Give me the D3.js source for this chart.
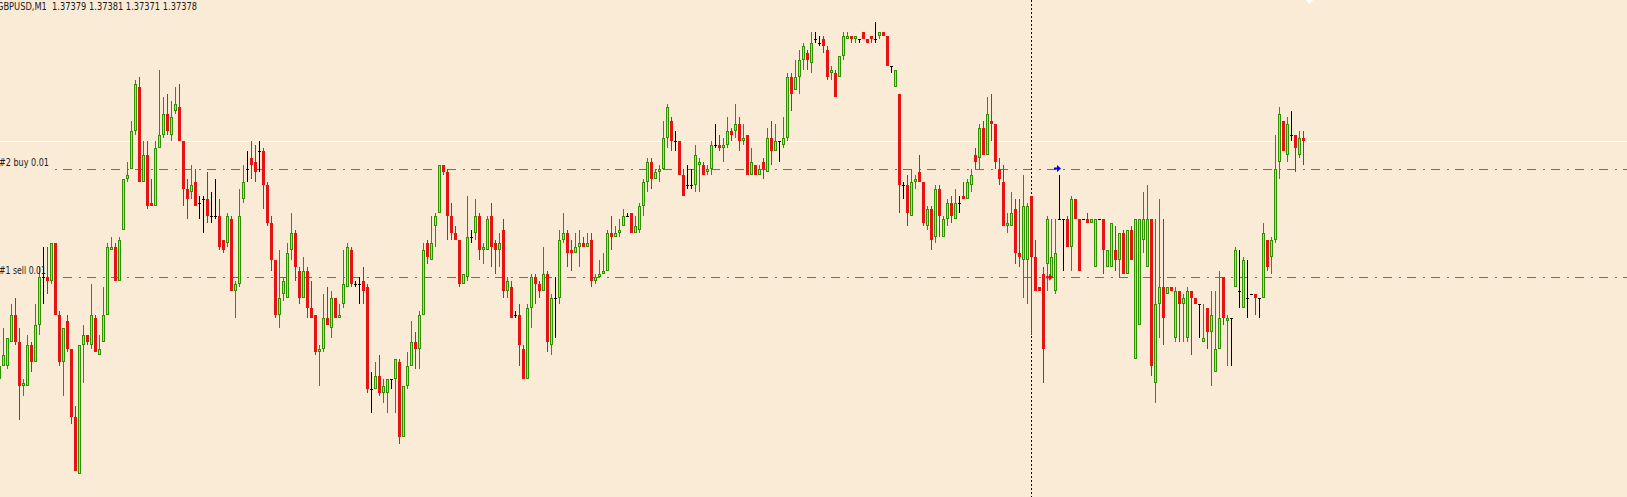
<!DOCTYPE html>
<html><head><meta charset="utf-8">
<script src="https://cdn.jsdelivr.net/npm/d3@7"></script>
<style>html,body{margin:0;padding:0;background:#FAEBD7;overflow:hidden}</style>
</head><body>
<svg id="chart" width="1627" height="497"></svg>
<script>
const symbolTitle = "GBPUSD,M1";
const titleQuote = ["1.37379","1.37381","1.37371","1.37378"];
const orderLabels = ["#2 buy 0.01", "#1 sell 0.01"];
const orderPrices = [1.37370, 1.37338];
const orderBars = [264, 262];
const bidPrice = 1.37378;
const markerBar = 258;

const open = [1.37308,1.37312,1.37312,1.37319,1.37327,1.37319,1.37306,1.37306,1.37318,1.37313,
1.37324,1.37338,1.37338,1.37337,1.37348,1.37327,1.37313,1.37325,1.37317,1.37297,
1.37280,1.37318,1.37321,1.37318,1.37326,1.37315,1.37319,1.37327,1.37346,1.37347,
1.37337,1.37352,1.37367,1.37370,1.37381,1.37394,1.37366,1.37374,1.37360,1.37359,
1.37376,1.37380,1.37386,1.37380,1.37387,1.37388,1.37378,1.37364,1.37363,1.37366,
1.37360,1.37361,1.37361,1.37356,1.37356,1.37356,1.37349,1.37348,1.37355,1.37334,
1.37336,1.37361,1.37370,1.37373,1.37372,1.37375,1.37375,1.37365,1.37354,1.37343,
1.37327,1.37333,1.37332,1.37346,1.37351,1.37340,1.37332,1.37340,1.37329,1.37327,
1.37316,1.37317,1.37326,1.37323,1.37332,1.37326,1.37330,1.37335,1.37346,1.37336,
1.37336,1.37337,1.37335,1.37305,1.37305,1.37309,1.37304,1.37304,1.37308,1.37308,
1.37313,1.37291,1.37306,1.37312,1.37319,1.37317,1.37327,1.37348,1.37343,1.37353,
1.37357,1.37371,1.37369,1.37356,1.37351,1.37349,1.37336,1.37338,1.37350,1.37351,
1.37356,1.37346,1.37346,1.37356,1.37348,1.37346,1.37352,1.37334,1.37335,1.37327,
1.37327,1.37317,1.37308,1.37329,1.37338,1.37336,1.37334,1.37339,1.37318,1.37332,
1.37332,1.37349,1.37351,1.37346,1.37345,1.37347,1.37348,1.37347,1.37349,1.37337,
1.37338,1.37339,1.37340,1.37351,1.37350,1.37351,1.37353,1.37356,1.37357,1.37351,
1.37352,1.37359,1.37366,1.37372,1.37367,1.37369,1.37370,1.37379,1.37384,1.37378,
1.37378,1.37368,1.37365,1.37365,1.37365,1.37371,1.37371,1.37369,1.37370,1.37377,
1.37377,1.37376,1.37377,1.37381,1.37381,1.37383,1.37378,1.37380,1.37368,1.37371,
1.37368,1.37372,1.37369,1.37379,1.37375,1.37378,1.37377,1.37379,1.37397,1.37393,
1.37397,1.37402,1.37404,1.37401,1.37408,1.37407,1.37408,1.37405,1.37398,1.37398,
1.37397,1.37403,1.37408,1.37409,1.37408,1.37408,1.37410,1.37408,1.37409,1.37408,
1.37409,1.37410,1.37409,1.37400,1.37394,1.37392,1.37365,1.37365,1.37356,1.37366,
1.37369,1.37366,1.37353,1.37358,1.37350,1.37364,1.37350,1.37355,1.37360,1.37355,
1.37360,1.37362,1.37361,1.37365,1.37374,1.37373,1.37382,1.37374,1.37384,1.37383,
1.37370,1.37366,1.37353,1.37353,1.37358,1.37345,1.37343,1.37343,1.37362,1.37344,
1.37335,1.37339,1.37342,1.37338,1.37334,1.37355,1.37355,1.37355,1.37347,1.37361,
1.37355,1.37355,1.37355,1.37354,1.37341,1.37355,1.37355,1.37341,1.37341,1.37346,
1.37343,1.37351,1.37339,1.37352,1.37314,1.37324,1.37349,1.37341,1.37355,1.37307,
1.37330,1.37335,1.37333,1.37335,1.37320,1.37334,1.37330,1.37320,1.37334,1.37332,
1.37330,1.37319,1.37329,1.37322,1.37310,1.37317,1.37338,1.37325,1.37326,1.37335,
1.37334,1.37329,1.37332,1.37333,1.37333,1.37332,1.37332,1.37349,1.37344,1.37349,
1.37372,1.37384,1.37374,1.37380,1.37380,1.37374,1.37379];

const high = [1.37314,1.37323,1.37320,1.37330,1.37332,1.37323,1.37308,1.37321,1.37319,1.37330,
1.37341,1.37347,1.37347,1.37348,1.37348,1.37328,1.37323,1.37327,1.37317,1.37300,
1.37318,1.37324,1.37321,1.37336,1.37327,1.37321,1.37335,1.37348,1.37350,1.37348,
1.37350,1.37367,1.37372,1.37384,1.37396,1.37397,1.37378,1.37378,1.37367,1.37378,
1.37399,1.37391,1.37392,1.37390,1.37394,1.37395,1.37378,1.37367,1.37371,1.37370,
1.37362,1.37362,1.37369,1.37363,1.37367,1.37361,1.37349,1.37357,1.37356,1.37337,
1.37364,1.37371,1.37375,1.37378,1.37377,1.37378,1.37376,1.37366,1.37356,1.37343,
1.37346,1.37338,1.37348,1.37357,1.37352,1.37341,1.37344,1.37341,1.37337,1.37327,
1.37318,1.37333,1.37335,1.37334,1.37332,1.37330,1.37346,1.37348,1.37347,1.37337,
1.37338,1.37341,1.37336,1.37310,1.37313,1.37315,1.37308,1.37308,1.37308,1.37314,
1.37314,1.37306,1.37316,1.37325,1.37322,1.37328,1.37348,1.37349,1.37356,1.37357,
1.37371,1.37371,1.37370,1.37360,1.37353,1.37349,1.37339,1.37362,1.37352,1.37361,
1.37357,1.37348,1.37356,1.37360,1.37349,1.37351,1.37355,1.37338,1.37337,1.37328,
1.37330,1.37318,1.37330,1.37339,1.37339,1.37337,1.37347,1.37340,1.37333,1.37338,
1.37352,1.37357,1.37352,1.37349,1.37351,1.37352,1.37350,1.37351,1.37351,1.37339,
1.37343,1.37345,1.37352,1.37356,1.37353,1.37355,1.37358,1.37357,1.37357,1.37356,
1.37360,1.37367,1.37373,1.37373,1.37370,1.37371,1.37384,1.37389,1.37385,1.37381,
1.37378,1.37370,1.37371,1.37370,1.37377,1.37373,1.37372,1.37371,1.37378,1.37383,
1.37380,1.37379,1.37385,1.37382,1.37389,1.37385,1.37383,1.37380,1.37376,1.37371,
1.37371,1.37373,1.37382,1.37384,1.37383,1.37378,1.37385,1.37398,1.37398,1.37402,
1.37405,1.37407,1.37405,1.37410,1.37410,1.37409,1.37409,1.37406,1.37400,1.37399,
1.37403,1.37410,1.37410,1.37409,1.37409,1.37408,1.37410,1.37408,1.37409,1.37413,
1.37410,1.37410,1.37409,1.37400,1.37399,1.37392,1.37366,1.37368,1.37370,1.37368,
1.37374,1.37366,1.37359,1.37359,1.37365,1.37365,1.37356,1.37361,1.37362,1.37364,
1.37362,1.37366,1.37367,1.37370,1.37376,1.37383,1.37384,1.37391,1.37392,1.37383,
1.37373,1.37371,1.37357,1.37363,1.37361,1.37361,1.37368,1.37360,1.37362,1.37349,
1.37335,1.37341,1.37356,1.37355,1.37355,1.37368,1.37355,1.37356,1.37362,1.37361,
1.37355,1.37355,1.37357,1.37355,1.37355,1.37355,1.37355,1.37346,1.37354,1.37353,
1.37351,1.37352,1.37352,1.37353,1.37355,1.37355,1.37363,1.37365,1.37355,1.37355,
1.37361,1.37355,1.37335,1.37335,1.37335,1.37334,1.37333,1.37335,1.37334,1.37332,
1.37330,1.37330,1.37329,1.37334,1.37334,1.37340,1.37338,1.37327,1.37326,1.37347,
1.37346,1.37344,1.37343,1.37333,1.37333,1.37332,1.37354,1.37349,1.37350,1.37380,
1.37388,1.37384,1.37385,1.37387,1.37380,1.37381,1.37381];

const low = [1.37297,1.37312,1.37311,1.37319,1.37318,1.37296,1.37303,1.37306,1.37310,1.37313,
1.37321,1.37330,1.37333,1.37336,1.37327,1.37312,1.37303,1.37316,1.37295,1.37281,
1.37280,1.37307,1.37318,1.37317,1.37316,1.37315,1.37319,1.37327,1.37346,1.37337,
1.37337,1.37352,1.37366,1.37370,1.37380,1.37366,1.37366,1.37358,1.37359,1.37359,
1.37376,1.37379,1.37380,1.37378,1.37386,1.37378,1.37359,1.37355,1.37361,1.37359,
1.37355,1.37351,1.37354,1.37354,1.37355,1.37346,1.37345,1.37347,1.37334,1.37326,
1.37335,1.37360,1.37366,1.37367,1.37366,1.37369,1.37358,1.37353,1.37340,1.37326,
1.37323,1.37331,1.37332,1.37343,1.37337,1.37330,1.37332,1.37326,1.37326,1.37315,
1.37306,1.37316,1.37324,1.37320,1.37326,1.37326,1.37329,1.37335,1.37335,1.37335,
1.37330,1.37330,1.37304,1.37298,1.37305,1.37303,1.37301,1.37298,1.37305,1.37298,
1.37289,1.37291,1.37305,1.37312,1.37311,1.37311,1.37327,1.37342,1.37343,1.37347,
1.37357,1.37368,1.37349,1.37349,1.37349,1.37335,1.37336,1.37337,1.37348,1.37349,
1.37343,1.37342,1.37346,1.37341,1.37339,1.37341,1.37332,1.37332,1.37326,1.37326,
1.37312,1.37308,1.37308,1.37323,1.37330,1.37332,1.37334,1.37316,1.37315,1.37320,
1.37330,1.37348,1.37341,1.37340,1.37345,1.37341,1.37347,1.37347,1.37335,1.37336,
1.37338,1.37339,1.37340,1.37346,1.37350,1.37350,1.37353,1.37356,1.37351,1.37351,
1.37351,1.37356,1.37363,1.37364,1.37367,1.37366,1.37370,1.37376,1.37375,1.37375,
1.37368,1.37362,1.37364,1.37364,1.37363,1.37363,1.37368,1.37368,1.37368,1.37376,
1.37375,1.37372,1.37376,1.37378,1.37379,1.37375,1.37377,1.37368,1.37368,1.37368,
1.37368,1.37367,1.37369,1.37371,1.37375,1.37372,1.37376,1.37378,1.37387,1.37393,
1.37392,1.37399,1.37399,1.37398,1.37407,1.37406,1.37404,1.37396,1.37396,1.37391,
1.37397,1.37402,1.37408,1.37407,1.37407,1.37407,1.37408,1.37407,1.37407,1.37407,
1.37408,1.37409,1.37400,1.37398,1.37394,1.37357,1.37361,1.37353,1.37356,1.37364,
1.37366,1.37353,1.37352,1.37346,1.37348,1.37350,1.37350,1.37353,1.37354,1.37355,
1.37357,1.37361,1.37361,1.37363,1.37370,1.37370,1.37374,1.37374,1.37378,1.37370,
1.37365,1.37353,1.37351,1.37353,1.37342,1.37341,1.37332,1.37330,1.37321,1.37334,
1.37334,1.37307,1.37334,1.37338,1.37333,1.37355,1.37340,1.37347,1.37340,1.37355,
1.37340,1.37355,1.37354,1.37354,1.37341,1.37355,1.37339,1.37341,1.37341,1.37340,
1.37338,1.37339,1.37339,1.37343,1.37314,1.37324,1.37345,1.37341,1.37309,1.37301,
1.37320,1.37318,1.37333,1.37334,1.37319,1.37319,1.37319,1.37319,1.37315,1.37330,
1.37320,1.37319,1.37317,1.37306,1.37310,1.37317,1.37324,1.37312,1.37312,1.37335,
1.37329,1.37329,1.37326,1.37333,1.37327,1.37326,1.37332,1.37340,1.37339,1.37348,
1.37367,1.37375,1.37372,1.37378,1.37369,1.37373,1.37371];

const close = [1.37312,1.37315,1.37320,1.37327,1.37319,1.37306,1.37307,1.37318,1.37313,1.37324,
1.37338,1.37338,1.37337,1.37348,1.37327,1.37313,1.37323,1.37317,1.37297,1.37281,
1.37318,1.37321,1.37319,1.37327,1.37316,1.37317,1.37327,1.37347,1.37347,1.37337,
1.37349,1.37367,1.37368,1.37381,1.37395,1.37366,1.37374,1.37359,1.37359,1.37376,
1.37380,1.37386,1.37381,1.37385,1.37389,1.37378,1.37364,1.37361,1.37365,1.37359,
1.37360,1.37361,1.37356,1.37356,1.37356,1.37347,1.37346,1.37356,1.37334,1.37336,
1.37356,1.37366,1.37370,1.37371,1.37369,1.37375,1.37365,1.37354,1.37343,1.37327,
1.37332,1.37337,1.37345,1.37351,1.37341,1.37332,1.37340,1.37329,1.37326,1.37316,
1.37317,1.37326,1.37324,1.37332,1.37326,1.37327,1.37336,1.37347,1.37336,1.37336,
1.37336,1.37334,1.37305,1.37305,1.37309,1.37304,1.37306,1.37308,1.37308,1.37314,
1.37291,1.37306,1.37312,1.37319,1.37317,1.37327,1.37346,1.37344,1.37348,1.37356,
1.37371,1.37369,1.37356,1.37351,1.37349,1.37336,1.37339,1.37350,1.37350,1.37356,
1.37346,1.37347,1.37355,1.37347,1.37346,1.37348,1.37334,1.37337,1.37326,1.37327,
1.37318,1.37308,1.37329,1.37338,1.37336,1.37334,1.37339,1.37319,1.37332,1.37332,
1.37349,1.37351,1.37345,1.37345,1.37347,1.37348,1.37347,1.37348,1.37337,1.37338,
1.37339,1.37340,1.37351,1.37350,1.37351,1.37352,1.37356,1.37356,1.37351,1.37353,
1.37359,1.37366,1.37372,1.37367,1.37369,1.37370,1.37379,1.37388,1.37378,1.37378,
1.37368,1.37362,1.37365,1.37365,1.37374,1.37372,1.37368,1.37370,1.37377,1.37377,
1.37376,1.37377,1.37381,1.37380,1.37383,1.37378,1.37379,1.37368,1.37372,1.37368,
1.37370,1.37370,1.37379,1.37375,1.37378,1.37378,1.37379,1.37397,1.37392,1.37397,
1.37402,1.37406,1.37402,1.37407,1.37408,1.37407,1.37406,1.37397,1.37399,1.37391,
1.37403,1.37409,1.37409,1.37408,1.37409,1.37408,1.37408,1.37407,1.37408,1.37408,
1.37410,1.37409,1.37400,1.37400,1.37399,1.37365,1.37365,1.37357,1.37366,1.37367,
1.37366,1.37354,1.37358,1.37349,1.37364,1.37356,1.37355,1.37360,1.37356,1.37360,
1.37360,1.37361,1.37366,1.37368,1.37372,1.37382,1.37374,1.37386,1.37383,1.37372,
1.37367,1.37353,1.37354,1.37357,1.37345,1.37344,1.37359,1.37359,1.37344,1.37334,
1.37334,1.37317,1.37355,1.37344,1.37345,1.37355,1.37355,1.37347,1.37361,1.37355,
1.37340,1.37355,1.37354,1.37355,1.37355,1.37355,1.37346,1.37346,1.37354,1.37343,
1.37351,1.37339,1.37352,1.37343,1.37355,1.37355,1.37355,1.37355,1.37312,1.37330,
1.37335,1.37326,1.37335,1.37334,1.37334,1.37330,1.37332,1.37334,1.37332,1.37330,
1.37330,1.37320,1.37322,1.37327,1.37317,1.37326,1.37326,1.37326,1.37326,1.37346,
1.37334,1.37343,1.37332,1.37333,1.37332,1.37332,1.37351,1.37341,1.37349,1.37370,
1.37386,1.37375,1.37383,1.37380,1.37376,1.37379,1.37378];

const W = 1627, H = 497;
const colors = {bg:"#FAEBD7", bullLine:"#2f9300", bullFill:"#c6e61c", bear:"#e81212", doji:"#000000",
  order:"#6e6e6e", bid:"#ffffff", text:"#1a1a1a"};

const svg = d3.select("#chart");
svg.append("rect").attr("width", W).attr("height", H).attr("fill", colors.bg);

const n = open.length;
const idx = d3.range(n);
const x = d3.scaleLinear().domain([0, n - 1]).range([-0.5, -0.5 + 4 * (n - 1)]);
const y = d3.scaleLinear().domain([1.37378, 1.37278]).range([141.3, 481.3]);
const ry = v => Math.round(y(v));

// bid line
svg.append("line").attr("x1", 0).attr("x2", W)
  .attr("y1", ry(bidPrice) + 0.5).attr("y2", ry(bidPrice) + 0.5)
  .attr("stroke", colors.bid).attr("stroke-width", 1);

// order lines
orderPrices.forEach((p, k) => {
  const yy = ry(p) + 0.5;
  svg.append("line").attr("x1", 52).attr("x2", W).attr("y1", yy).attr("y2", yy)
    .attr("stroke", colors.order).attr("stroke-width", 1)
    .attr("stroke-dasharray", "9,6.5,2,6.5").attr("stroke-dashoffset", -15.3 + 52)
    .attr("shape-rendering", "crispEdges");
});

// vertical dotted line
const vx = Math.floor(x(markerBar)) + 0.5;
svg.append("line").attr("x1", vx).attr("x2", vx).attr("y1", 0).attr("y2", H)
  .attr("stroke", "#000").attr("stroke-width", 1).attr("stroke-dasharray", "2,2")
  .attr("shape-rendering", "crispEdges");

// candles
const g = svg.append("g").attr("shape-rendering", "crispEdges");
idx.forEach(i => {
  const o = open[i], c = close[i], h = high[i], l = low[i];
  const cx = x(i);
  const kind = c > o ? "bull" : (c < o ? "bear" : "doji");
  const wickColor = kind === "bull" ? colors.bullLine : (kind === "bear" ? colors.bear : colors.doji);
  const yh = ry(h), yl = ry(l);
  g.append("line").attr("x1", cx).attr("x2", cx).attr("y1", yh).attr("y2", Math.max(yl, yh + 1))
    .attr("stroke", wickColor).attr("stroke-width", 1);
  const top = ry(Math.max(o, c)), bot = ry(Math.min(o, c));
  if (kind === "bull") {
    if (bot - top >= 3) {
      g.append("rect").attr("x", cx - 1).attr("y", top + 0.5).attr("width", 2).attr("height", bot - top - 1)
        .attr("fill", colors.bullFill).attr("stroke", colors.bullLine).attr("stroke-width", 1);
    } else {
      g.append("rect").attr("x", cx - 1.5).attr("y", top).attr("width", 3).attr("height", Math.max(1, bot - top + 1))
        .attr("fill", colors.bullLine);
    }
  } else if (kind === "bear") {
    g.append("rect").attr("x", cx - 1.5).attr("y", top).attr("width", 3).attr("height", Math.max(1, bot - top))
      .attr("fill", colors.bear);
  } else {
    g.append("line").attr("x1", cx - 1.5).attr("x2", cx + 1.5).attr("y1", top + 0.5).attr("y2", top + 0.5)
      .attr("stroke", colors.doji).attr("stroke-width", 1);
  }
});

// order arrows
const arrowColors = ["#0000ff", "#ff0000"];
orderPrices.forEach((p, k) => {
  const ax = x(orderBars[k]) - 1.5, ay = y(p);
  const path = `M${ax},${ay - 1} L${ax + 3},${ay - 1} L${ax + 3},${ay - 3.5} L${ax + 7},${ay} L${ax + 3},${ay + 3.5} L${ax + 3},${ay + 1} L${ax},${ay + 1} Z`;
  svg.append("path").attr("d", path).attr("fill", arrowColors[k]);
});

// chart shift marker
svg.append("path").attr("d", "M1303,-3 L1316,-3 L1309.5,4 Z").attr("fill", "#ffffff");

// texts
svg.append("text").attr("x", -3).attr("y", 10)
  .attr("font-family", "DejaVu Sans, Verdana, sans-serif").attr("font-size", 10)
  .attr("fill", colors.text).style("white-space", "pre")
  .attr("textLength", 200).attr("lengthAdjust", "spacingAndGlyphs")
  .text(symbolTitle + "  " + titleQuote.join(" "));

const labelBase = [166, 273.5];
const labelLen = [50, 47];
orderLabels.forEach((t, k) => {
  svg.append("text").attr("x", -1).attr("y", labelBase[k])
    .attr("font-family", "DejaVu Sans, Verdana, sans-serif").attr("font-size", 10)
    .attr("fill", colors.text)
    .attr("textLength", labelLen[k]).attr("lengthAdjust", "spacingAndGlyphs")
    .text(t);
});
</script>
</body></html>
